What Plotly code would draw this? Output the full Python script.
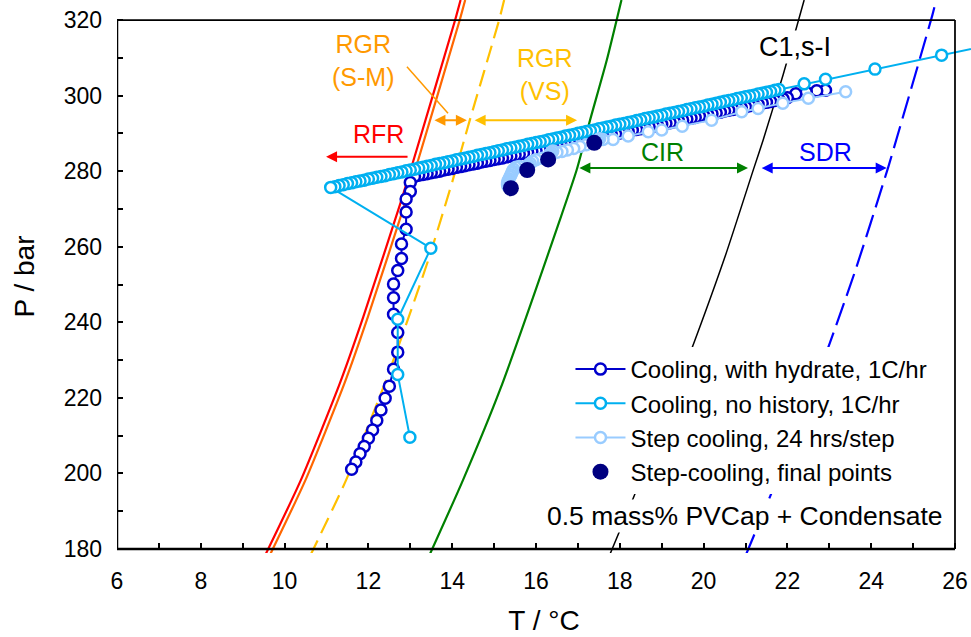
import plotly.graph_objects as go

FONT = "Arial, 'Liberation Sans', sans-serif"

# ---- hydrate equilibrium / region boundary curves (T in degC, P in bar) ----
RED_T = [9.53, 10.39, 11.32, 11.88, 12.79, 13.15, 14.07, 14.20]
RED_P = [178.2, 198.3, 223.9, 241.5, 272.4, 285.6, 320.0, 325.3]

ORANGE_T = [9.64, 10.50, 11.43, 11.99, 12.90, 13.26, 14.18, 14.31]
ORANGE_P = [178.2, 198.3, 223.9, 241.5, 272.4, 285.6, 320.0, 325.3]

YELLOW_T = [10.61, 11.47, 12.40, 12.83, 13.43, 14.01, 14.42, 15.12, 15.24]
YELLOW_P = [178.2, 198.3, 224.0, 237.2, 256.5, 277.5, 293.5, 320.0, 325.3]

GREEN_T = [13.45, 14.26, 15.14, 16.57, 16.97, 17.29, 17.69, 18.04]
GREEN_P = [178.2, 198.3, 222.1, 267.1, 280.3, 293.5, 309.4, 325.3]

C1_T = [17.75, 18.40, 19.50, 20.50, 21.20, 21.42, 21.90, 22.40]
C1_P = [178.2, 195.6, 226.6, 257.0, 280.8, 288.2, 305.6, 325.3]

SDR_T = [21.00, 21.62, 22.70, 23.60, 24.40, 24.62, 25.46, 25.55]
SDR_P = [178.2, 194.8, 225.0, 253.0, 280.8, 289.1, 321.3, 325.3]

# ---- Cooling, with hydrate, 1C/hr ----
HYD_T = [22.91, 22.70, 22.45, 22.20,
         22.0, 21.9, 21.8, 21.7, 21.6, 21.5, 21.4, 21.3, 21.2, 21.1, 21.0,
         20.9, 20.8, 20.7, 20.6, 20.5, 20.4, 20.3, 20.2, 20.1, 20.0,
         19.9, 19.8, 19.7, 19.6, 19.5, 19.4, 19.3, 19.2, 19.1, 19.0,
         18.9, 18.8, 18.7, 18.6, 18.5, 18.4, 18.3, 18.2, 18.1, 18.0,
         17.9, 17.8, 17.7, 17.6, 17.5, 17.4, 17.3, 17.2, 17.1, 17.0,
         16.9, 16.8, 16.7, 16.6, 16.5, 16.4, 16.3, 16.2, 16.1, 16.0,
         15.9, 15.8, 15.7, 15.6, 15.5, 15.4, 15.3, 15.2, 15.1, 15.0,
         14.9, 14.8, 14.7, 14.6, 14.5, 14.4, 14.3, 14.2, 14.1, 14.0,
         13.9, 13.8, 13.7, 13.6, 13.5, 13.4, 13.3, 13.2, 13.1,
         13.0, 13.0, 12.9, 12.9, 12.9, 12.79, 12.79, 12.7, 12.6, 12.6,
         12.6, 12.7, 12.7, 12.6, 12.5, 12.4, 12.3, 12.2, 12.1, 12.0,
         11.9, 11.8, 11.7, 11.6]
HYD_P = [301.4, 301.3, 300.9, 300.5,
         299.4, 299.1, 298.9, 298.7, 298.4, 298.2, 298.0, 297.7, 297.5, 297.3, 297.0,
         296.8, 296.6, 296.3, 296.1, 295.9, 295.6, 295.4, 295.2, 294.9, 294.7,
         294.5, 294.2, 294.0, 293.8, 293.5, 293.3, 293.1, 292.8, 292.6, 292.4,
         292.1, 291.9, 291.7, 291.4, 291.2, 291.0, 290.8, 290.5, 290.3, 290.1,
         289.8, 289.6, 289.4, 289.1, 288.9, 288.7, 288.4, 288.2, 288.0, 287.7,
         287.5, 287.3, 287.0, 286.8, 286.6, 286.3, 286.1, 285.9, 285.6, 285.4,
         285.2, 284.9, 284.7, 284.5, 284.2, 284.0, 283.8, 283.5, 283.3, 283.1,
         282.8, 282.6, 282.4, 282.1, 281.9, 281.7, 281.4, 281.2, 281.0, 280.7,
         280.5, 280.3, 280.0, 279.8, 279.6, 279.3, 279.1, 278.9, 278.6,
         277.0, 274.6, 272.6, 269.2, 264.6, 260.7, 256.9, 253.7, 250.1, 246.5,
         242.1, 237.3, 232.1, 227.6, 223.1, 219.9, 216.8, 214.0, 211.5, 209.3,
         207.1, 205.2, 203.0, 201.1]

# ---- Cooling, no history, 1C/hr ----
NOH_T = [27.00, 25.68, 24.09, 22.91, 22.40,
         21.8, 21.7, 21.6, 21.5, 21.4, 21.3, 21.2, 21.1, 21.0,
         20.9, 20.8, 20.7, 20.6, 20.5, 20.4, 20.3, 20.2, 20.1, 20.0,
         19.9, 19.8, 19.7, 19.6, 19.5, 19.4, 19.3, 19.2, 19.1, 19.0,
         18.9, 18.8, 18.7, 18.6, 18.5, 18.4, 18.3, 18.2, 18.1, 18.0,
         17.9, 17.8, 17.7, 17.6, 17.5, 17.4, 17.3, 17.2, 17.1, 17.0,
         16.9, 16.8, 16.7, 16.6, 16.5, 16.4, 16.3, 16.2, 16.1, 16.0,
         15.9, 15.8, 15.7, 15.6, 15.5, 15.4, 15.3, 15.2, 15.1, 15.0,
         14.9, 14.8, 14.7, 14.6, 14.5, 14.4, 14.3, 14.2, 14.1, 14.0,
         13.9, 13.8, 13.7, 13.6, 13.5, 13.4, 13.3, 13.2, 13.1, 13.0,
         12.9, 12.8, 12.7, 12.6, 12.5, 12.4, 12.3, 12.2, 12.1, 12.0,
         11.9, 11.8, 11.7, 11.6, 11.5, 11.4, 11.3, 11.2, 11.1,
         13.49, 12.70, 12.70, 12.99]
NOH_P = [313.8, 310.7, 307.0, 304.3, 303.1,
         301.6, 301.4, 301.1, 300.9, 300.6, 300.4, 300.1, 299.9, 299.7,
         299.4, 299.2, 298.9, 298.7, 298.5, 298.2, 298.0, 297.7, 297.5, 297.2,
         297.0, 296.8, 296.5, 296.3, 296.0, 295.8, 295.5, 295.3, 295.1, 294.8,
         294.6, 294.3, 294.1, 293.9, 293.6, 293.4, 293.1, 292.9, 292.6, 292.4,
         292.2, 291.9, 291.7, 291.4, 291.2, 290.9, 290.7, 290.5, 290.2, 290.0,
         289.7, 289.5, 289.3, 289.0, 288.8, 288.5, 288.3, 288.0, 287.8, 287.6,
         287.3, 287.1, 286.8, 286.6, 286.3, 286.1, 285.9, 285.6, 285.4, 285.1,
         284.9, 284.7, 284.4, 284.2, 283.9, 283.7, 283.4, 283.2, 283.0, 282.7,
         282.5, 282.2, 282.0, 281.8, 281.5, 281.3, 281.0, 280.8, 280.5, 280.3,
         280.1, 279.8, 279.6, 279.3, 279.1, 278.8, 278.6, 278.4, 278.1, 277.9,
         277.6, 277.4, 277.2, 276.9, 276.7, 276.4, 276.2, 275.9, 275.7,
         259.6, 240.8, 226.2, 209.6]

# ---- Step cooling, 24 hrs/step (dense logging while each step holds) ----
STEP_T = [23.39, 22.50, 21.89, 21.30, 20.91, 20.19, 19.49, 19.00, 18.68, 18.20,
          17.84, 17.60, 17.52, 17.48, 17.45, 17.42, 17.40, 17.39,
          17.20, 17.05, 16.90, 16.75, 16.62, 16.50,
          16.40, 16.36, 16.33, 16.31, 16.30, 16.29, 16.29, 16.29,
          16.15, 16.00, 15.92, 15.86, 15.82, 15.80, 15.80, 15.79, 15.79, 15.79,
          15.70, 15.60, 15.52, 15.47, 15.44, 15.42, 15.40, 15.38, 15.36, 15.34,
          15.33, 15.32, 15.32, 15.33, 15.35, 15.38, 15.40]
STEP_P = [301.0, 299.3, 298.0, 296.6, 295.7, 293.5, 291.9, 290.9, 290.4, 289.3,
          288.4, 288.4, 288.6, 288.3, 288.1, 287.9, 287.7, 287.5,
          287.0, 286.5, 286.0, 285.6, 285.2, 285.0,
          285.3, 284.9, 284.5, 284.1, 283.8, 283.5, 283.3, 283.1,
          283.4, 283.0, 282.6, 282.1, 281.7, 281.3, 280.9, 280.6, 280.4, 280.3,
          280.9, 281.2, 281.0, 280.5, 280.0, 279.5, 279.0, 278.5, 278.0, 277.6,
          277.2, 276.8, 276.4, 276.1, 275.8, 275.6, 275.5]

# ---- Step-cooling, final points ----
FINAL_T = [15.40, 15.79, 16.29, 17.39]
FINAL_P = [275.5, 280.3, 283.1, 287.5]

X_TICKS = list(range(6, 27))
X_LABELS = [str(v) if v % 2 == 0 else "" for v in X_TICKS]
Y_TICKS = list(range(180, 330, 10))
Y_LABELS = [str(v) if v % 20 == 0 else "" for v in Y_TICKS]

fig = go.Figure()


def curve(t, p, color, width=2.2, dash=None):
    fig.add_trace(go.Scatter(
        x=t, y=p, mode="lines", showlegend=False, hoverinfo="skip",
        line=dict(color=color, width=width, dash=dash, shape="spline", smoothing=0.6)))


curve(RED_T, RED_P, "#FF0000")
curve(ORANGE_T, ORANGE_P, "#FF6600")
curve(YELLOW_T, YELLOW_P, "#FFC000", dash="17px,8px")
curve(GREEN_T, GREEN_P, "#008000")
curve(C1_T, C1_P, "#000000", width=1.5)
curve(SDR_T, SDR_P, "#0000FF", dash="23px,8px")


def series(t, p, name, color, fill="white", size=11, lw=2.5, mode="lines+markers"):
    fig.add_trace(go.Scatter(
        x=t, y=p, name=name, mode=mode,
        line=dict(color=color, width=2),
        marker=dict(symbol="circle", size=size, color=fill,
                    line=dict(color=color, width=lw))))


series(HYD_T, HYD_P, "Cooling, with hydrate, 1C/hr", "#0000CC")
series(NOH_T, NOH_P, "Cooling, no history, 1C/hr", "#00B0F0")
series(STEP_T, STEP_P, "Step cooling, 24 hrs/step", "#99CCFF")
series(FINAL_T, FINAL_P, "Step-cooling, final points", "#000080",
       fill="#000080", size=16, lw=0, mode="markers")

# region labels
labels = [
    ("RGR<br>(S-M)", 11.87, 309.2, "#FF9900"),
    ("RGR<br>(VS)", 16.21, 305.7, "#FFC000"),
    ("RFR", 12.23, 289.8, "#FF0000"),
    ("CIR", 19.01, 285.1, "#008000"),
    ("SDR", 22.92, 285.1, "#0000FF"),
]
for text, x, y, color in labels:
    fig.add_annotation(x=x, y=y, text=text, showarrow=False,
                       font=dict(family=FONT, size=25, color=color))

fig.add_annotation(x=22.18, y=312.9, text="C1,s-I", showarrow=False, bgcolor="white",
                   font=dict(family=FONT, size=27, color="black"))
fig.add_annotation(x=20.99, y=188.7, text="0.5 mass% PVCap + Condensate",
                   showarrow=False, bgcolor="white",
                   font=dict(family=FONT, size=26.5, color="black"))

# region extent arrows
arrows = [
    (13.54, 14.35, 293.5, "#FF9900", "end+start"),
    (14.50, 16.98, 293.5, "#FFC000", "end+start"),
    (12.97, 10.99, 283.8, "#FF0000", "end"),
    (17.00, 21.06, 280.8, "#008000", "end+start"),
    (21.35, 24.37, 280.8, "#0000FF", "end+start"),
]
for x0, x1, y, color, side in arrows:
    fig.add_annotation(x=x1, y=y, ax=x0, ay=y, axref="x", ayref="y", xref="x", yref="y",
                       text="", showarrow=True, arrowhead=2, arrowside=side,
                       arrowsize=1.1, arrowwidth=2, arrowcolor=color, standoff=0,
                       startstandoff=0, startarrowhead=2, startarrowsize=1.1)

# leader from the (S-M) label
fig.add_shape(type="line", x0=12.92, y0=307.6, x1=13.90, y1=295.3, xref="x", yref="y",
              line=dict(color="#FF9900", width=1.5))

# plot frame
fig.add_shape(type="line", x0=6, x1=6, y0=180, y1=320, line=dict(color="black", width=2.5))
fig.add_shape(type="line", x0=6, x1=26, y0=180, y1=180, line=dict(color="black", width=2.5))
fig.add_shape(type="line", x0=6, x1=26, y0=320, y1=320, line=dict(color="black", width=1.75))
fig.add_shape(type="line", x0=26, x1=26, y0=180, y1=320, line=dict(color="black", width=1.75))

fig.update_layout(
    width=971, height=637,
    margin=dict(l=117, r=0, t=0, b=84),
    paper_bgcolor="white", plot_bgcolor="white",
    font=dict(family=FONT, color="black"),
    showlegend=True,
    legend=dict(x=0.531, y=0.3725, xanchor="left", yanchor="top",
                bgcolor="white", borderwidth=0, itemwidth=50,
                font=dict(family=FONT, size=24, color="black"),
                tracegroupgap=0),
    xaxis=dict(range=[6, 26.382], anchor="free", position=4 / 553,
               tickmode="array", tickvals=X_TICKS, ticktext=X_LABELS,
               ticks="inside", ticklen=6, tickwidth=2, tickcolor="black",
               showline=False, showgrid=False, zeroline=False,
               tickfont=dict(family=FONT, size=23), ticklabelstandoff=16,
               title=dict(text="T / °C", font=dict(family=FONT, size=28), standoff=17)),
    yaxis=dict(range=[178.941, 325.293],
               tickmode="array", tickvals=Y_TICKS, ticktext=Y_LABELS,
               ticks="inside", ticklen=6, tickwidth=2, tickcolor="black",
               showline=False, showgrid=False, zeroline=False,
               tickfont=dict(family=FONT, size=23), ticklabelstandoff=14,
               title=dict(text="P / bar", font=dict(family=FONT, size=28), standoff=20)),
)

fig.write_html("out.html")
